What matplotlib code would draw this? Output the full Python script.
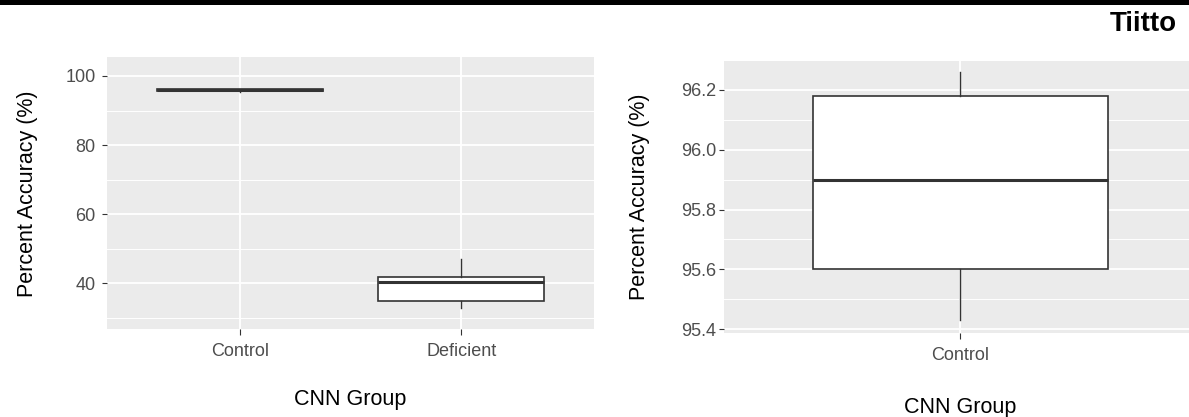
import matplotlib
matplotlib.use("Agg")
from matplotlib import pyplot as plt
from matplotlib.patches import Rectangle

# box summary per CNN group (percent accuracy)
groups = ["Control", "Deficient"]
whisker_low = [95.43, 33.0]
q1 = [95.60, 34.9]
median = [95.90, 40.3]
q3 = [96.18, 41.8]
whisker_high = [96.26, 47.0]

left_ticks = [40, 60, 80, 100]
left_minor = [30, 50, 70, 90]
right_ticks = [95.4, 95.6, 95.8, 96.0, 96.2]
right_minor = [95.5, 95.7, 95.9, 96.1]

W, H = 1189, 417
plt.rcParams['font.family'] = ['Liberation Sans', 'DejaVu Sans']

PANEL = "#EBEBEB"
INK = "#333333"
TICKTXT = "#4D4D4D"


def px_box(x0, y0, x1, y1):
    # pixel rectangle (top-left origin) -> figure fraction
    return [x0 / W, 1 - y1 / H, (x1 - x0) / W, (y1 - y0) / H]


def stats_for(idx):
    out = []
    for i in idx:
        out.append(dict(label=groups[i], whislo=whisker_low[i], q1=q1[i],
                        med=median[i], q3=q3[i], whishi=whisker_high[i], fliers=[]))
    return out


def style_panel(ax, major, minor, ylim, ypad):
    ax.set_facecolor(PANEL)
    for s in ax.spines.values():
        s.set_visible(False)
    ax.set_ylim(*ylim)
    ax.set_yticks(major)
    ax.set_yticks(minor, minor=True)
    ax.grid(which="major", color="white", lw=1.3, zorder=0)
    ax.grid(which="minor", axis="y", color="white", lw=0.7, zorder=0)
    ax.set_axisbelow(True)
    ax.tick_params(axis="y", which="major", length=3.8, width=0.8, color=INK,
                   labelsize=13, labelcolor=TICKTXT, pad=ypad)
    ax.tick_params(axis="x", which="major", length=4.3, width=0.8, color=INK,
                   labelsize=13, labelcolor=TICKTXT, pad=5.5)
    ax.tick_params(which="minor", length=0)


def draw_boxes(ax, idx):
    ax.bxp(stats_for(idx), positions=[i + 1 for i in range(len(idx))], widths=0.75,
           showcaps=False, showfliers=False, patch_artist=True,
           boxprops=dict(facecolor="white", edgecolor=INK, linewidth=1.2),
           medianprops=dict(color=INK, linewidth=2.2, solid_capstyle="butt"),
           whiskerprops=dict(color=INK, linewidth=1.0), zorder=3)


fig = plt.figure(figsize=(W / 100, H / 100), dpi=100)
fig.add_artist(Rectangle((0, 1 - 5 / H), 1, 5 / H, transform=fig.transFigure,
                         color="black", lw=0))
fig.text(1177 / W, 1 - 31 / H, "Tiitto", ha="right", va="baseline",
         fontsize=20, fontweight="bold", color="black")

# left: both groups on a wide scale
ax1 = fig.add_axes(px_box(106.7, 57.3, 594.3, 329.3))
draw_boxes(ax1, [0, 1])
ax1.set_xlim(0.4, 2.6)
style_panel(ax1, left_ticks, left_minor, (26.7, 105.4), 4.0)
ax1.set_ylabel("Percent Accuracy (%)", fontsize=15.5, va="center")
ax1.yaxis.set_label_coords((27 - 106.7) / 487.6, 0.5)
ax1.set_xlabel("CNN Group", fontsize=15.5, va="center")
ax1.xaxis.set_label_coords(0.5, (329.3 - 400) / 272)

# right: control group only, zoomed in
ax2 = fig.add_axes(px_box(724.3, 60.7, 1196, 333.3))
draw_boxes(ax2, [0])
ax2.set_xlim(0.4, 1.6)
style_panel(ax2, right_ticks, right_minor, (95.386, 96.298), 2.2)
ax2.set_yticklabels([f"{v:.1f}" for v in right_ticks])
ax2.set_ylabel("Percent Accuracy (%)", fontsize=15.5, va="center")
ax2.yaxis.set_label_coords((640 - 724.3) / 471.6, 0.5)
ax2.set_xlabel("CNN Group", fontsize=15.5, va="center")
ax2.xaxis.set_label_coords(0.5, (333.3 - 407) / 272.6)

fig.savefig("out.png", dpi=100, facecolor="white")
